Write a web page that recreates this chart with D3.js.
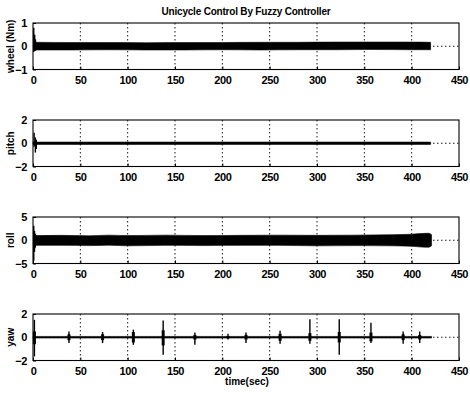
<!DOCTYPE html>
<html>
<head>
<meta charset="utf-8">
<script src="https://cdn.jsdelivr.net/npm/d3@7"></script>
<style>
  body { margin: 0; background: #fff; }
  text { font-family: "Liberation Sans", Arial, sans-serif; font-weight: bold; fill: #000; }
</style>
</head>
<body>
<script>
// tick values shared by all panels
var xTicks = [0, 50, 100, 150, 200, 250, 300, 350, 400, 450]

// wheel torque (Nm): envelope of the dense oscillation + start transient
var wheelBandT  = [3, 40, 80, 120, 160, 200, 240, 280, 320, 360, 400, 420]
var wheelBandHi = [0.17, 0.16, 0.16, 0.15, 0.16, 0.16, 0.17, 0.17, 0.18, 0.18, 0.18, 0.17]
var wheelBandLo = [-0.16, -0.16, -0.15, -0.16, -0.16, -0.15, -0.16, -0.15, -0.15, -0.14, -0.15, -0.15]
var wheelSpikeT  = [0.8, 1.8, 2.6]
var wheelSpikeHi = [0.8, 0.5, 0.3]
var wheelSpikeLo = [-0.25, -0.2, -0.2]

// pitch
var pitchBandT  = [0, 420]
var pitchBandHi = [0.1, 0.1]
var pitchBandLo = [-0.1, -0.1]
var pitchSpikeT  = [1.2, 2.5, 3.5]
var pitchSpikeHi = [0.9, 0.5, 0.3]
var pitchSpikeLo = [-0.3, -0.8, -0.5]

// roll
var rollBandT  = [3, 30, 60, 80, 100, 140, 180, 220, 260, 300, 340, 380, 400, 410, 418, 421]
var rollBandHi = [1.0, 1.05, 0.95, 1.1, 1.0, 1.1, 1.0, 1.05, 1.1, 1.05, 1.1, 1.2, 1.3, 1.45, 1.5, 1.2]
var rollBandLo = [-1.1, -1.1, -1.15, -1.05, -1.2, -1.1, -1.15, -1.1, -1.1, -1.2, -1.15, -1.2, -1.3, -1.45, -1.5, -1.2]
var rollSpikeT  = [0.8, 1.6, 2.4]
var rollSpikeHi = [3.1, 2.0, 1.4]
var rollSpikeLo = [-4.4, -2.5, -1.6]

// yaw: baseline plus bursts
var yawBandT  = [0, 421]
var yawBandHi = [0.07, 0.07]
var yawBandLo = [-0.07, -0.07]
var yawSpikeT  = [1.5, 38, 73.5, 106, 137.5, 171, 206, 225, 261, 292.5, 323.5, 357, 391, 408.5]
var yawSpikeHi = [1.5, 0.5, 0.45, 0.65, 1.45, 0.4, 0.3, 0.4, 0.55, 1.55, 1.55, 1.25, 0.5, 0.5]
var yawSpikeLo = [-1.65, -0.5, -0.5, -0.65, -1.5, -0.65, -0.2, -0.5, -0.55, -0.55, -1.5, -0.5, -0.55, -0.5]
var yawBodyHi  = [0.5, 0.25, 0.25, 0.45, 0.6, 0.2, 0.1, 0.2, 0.3, 0.35, 0.45, 0.4, 0.25, 0.2]
var yawBodyLo  = [-0.6, -0.25, -0.25, -0.45, -0.7, -0.2, -0.1, -0.2, -0.3, -0.3, -0.45, -0.35, -0.25, -0.2]

var panels = [
  {label: "wheel (Nm)", yTicks: [-1, 0, 1], bT: wheelBandT, bHi: wheelBandHi, bLo: wheelBandLo,
   sT: wheelSpikeT, sHi: wheelSpikeHi, sLo: wheelSpikeLo},
  {label: "pitch", yTicks: [-2, 0, 2], bT: pitchBandT, bHi: pitchBandHi, bLo: pitchBandLo,
   sT: pitchSpikeT, sHi: pitchSpikeHi, sLo: pitchSpikeLo},
  {label: "roll", yTicks: [-5, 0, 5], bT: rollBandT, bHi: rollBandHi, bLo: rollBandLo,
   sT: rollSpikeT, sHi: rollSpikeHi, sLo: rollSpikeLo},
  {label: "yaw", yTicks: [-2, 0, 2], bT: yawBandT, bHi: yawBandHi, bLo: yawBandLo,
   sT: yawSpikeT, sHi: yawSpikeHi, sLo: yawSpikeLo, bodyHi: yawBodyHi, bodyLo: yawBodyLo}
]

var width = 470
var height = 393
var left = 33, right = 459
var top0 = 23, step = 97, ph = 46.5

var svg = d3.select("body").append("svg")
    .attr("width", width)
    .attr("height", height)

var x = d3.scaleLinear().domain([0, 450]).range([left, right])

panels.forEach(function(p, i) {
  var top = top0 + i * step
  var y = d3.scaleLinear().domain([p.yTicks[0], p.yTicks[2]]).range([top + ph, top])
  var g = svg.append("g")

  // grid (dotted)
  g.selectAll(".gx").data(xTicks.slice(1, -1)).enter().append("line")
    .attr("x1", d => x(d)).attr("x2", d => x(d))
    .attr("y1", top).attr("y2", top + ph)
    .attr("stroke", "#000").attr("stroke-width", 0.9).attr("stroke-dasharray", "1.5,2.5")
  g.append("line")
    .attr("x1", left).attr("x2", right).attr("y1", y(0)).attr("y2", y(0))
    .attr("stroke", "#000").attr("stroke-width", 0.9).attr("stroke-dasharray", "1.5,2.5")

  // dense oscillation envelope
  var rows = p.bT.map((t, k) => ({t: t, hi: p.bHi[k], lo: p.bLo[k]}))
  var area = d3.area().x(d => x(d.t)).y0(d => y(d.lo)).y1(d => y(d.hi)).curve(d3.curveMonotoneX)
  g.append("path").datum(rows).attr("d", area).attr("fill", "#000").attr("stroke", "#000").attr("stroke-width", 0.6)

  // spikes
  var spikes = p.sT.map((t, k) => ({t: t, hi: p.sHi[k], lo: p.sLo[k]}))
  g.selectAll(".sp").data(spikes).enter().append("line")
    .attr("x1", d => x(d.t)).attr("x2", d => x(d.t))
    .attr("y1", d => y(d.hi)).attr("y2", d => y(d.lo))
    .attr("stroke", "#000").attr("stroke-width", 1.4)
  if (p.bodyHi) {
    var bodies = p.sT.map((t, k) => ({t: t, hi: p.bodyHi[k], lo: p.bodyLo[k]}))
    g.selectAll(".bd").data(bodies).enter().append("line")
      .attr("x1", d => x(d.t)).attr("x2", d => x(d.t))
      .attr("y1", d => y(d.hi)).attr("y2", d => y(d.lo))
      .attr("stroke", "#000").attr("stroke-width", 3)
  }

  // box
  g.append("rect").attr("x", left).attr("y", top).attr("width", right - left).attr("height", ph)
    .attr("fill", "none").attr("stroke", "#000").attr("stroke-width", 1.1)

  // axes
  var xAxis = d3.axisBottom(x).tickValues(xTicks).tickSize(-3).tickPadding(6).tickFormat(d3.format("d"))
  var ax = g.append("g").attr("transform", `translate(0,${top + ph})`).call(xAxis)
  var yAxis = d3.axisLeft(y).tickValues(p.yTicks).tickSize(-3).tickPadding(6).tickFormat(d3.format("d"))
  var ay = g.append("g").attr("transform", `translate(${left},0)`).call(yAxis)
  ;[ax, ay].forEach(a => {
    a.select(".domain").remove()
    a.selectAll("line").attr("stroke", "#000")
    a.selectAll("text").style("font-size", "11px").style("font-family", "Liberation Sans, Arial, sans-serif")
      .style("font-weight", "bold").attr("fill", "#000").style("letter-spacing", "-0.4px")
  })
  ax.selectAll("text").attr("y", 7)

  // y label
  svg.append("text")
    .attr("transform", `translate(14,${top + ph / 2}) rotate(-90)`)
    .style("text-anchor", "middle")
    .style("font-size", "10px")
    .text(p.label)
})

// title
svg.append("text")
  .attr("x", 246).attr("y", 15)
  .style("text-anchor", "middle")
  .style("font-size", "10px")
  .style("letter-spacing", "-0.2px")
  .text("Unicycle Control By Fuzzy Controller")

// x label
svg.append("text")
  .attr("x", 247).attr("y", 385)
  .style("text-anchor", "middle")
  .style("font-size", "10px")
  .text("time(sec)")
</script>
</body>
</html>
